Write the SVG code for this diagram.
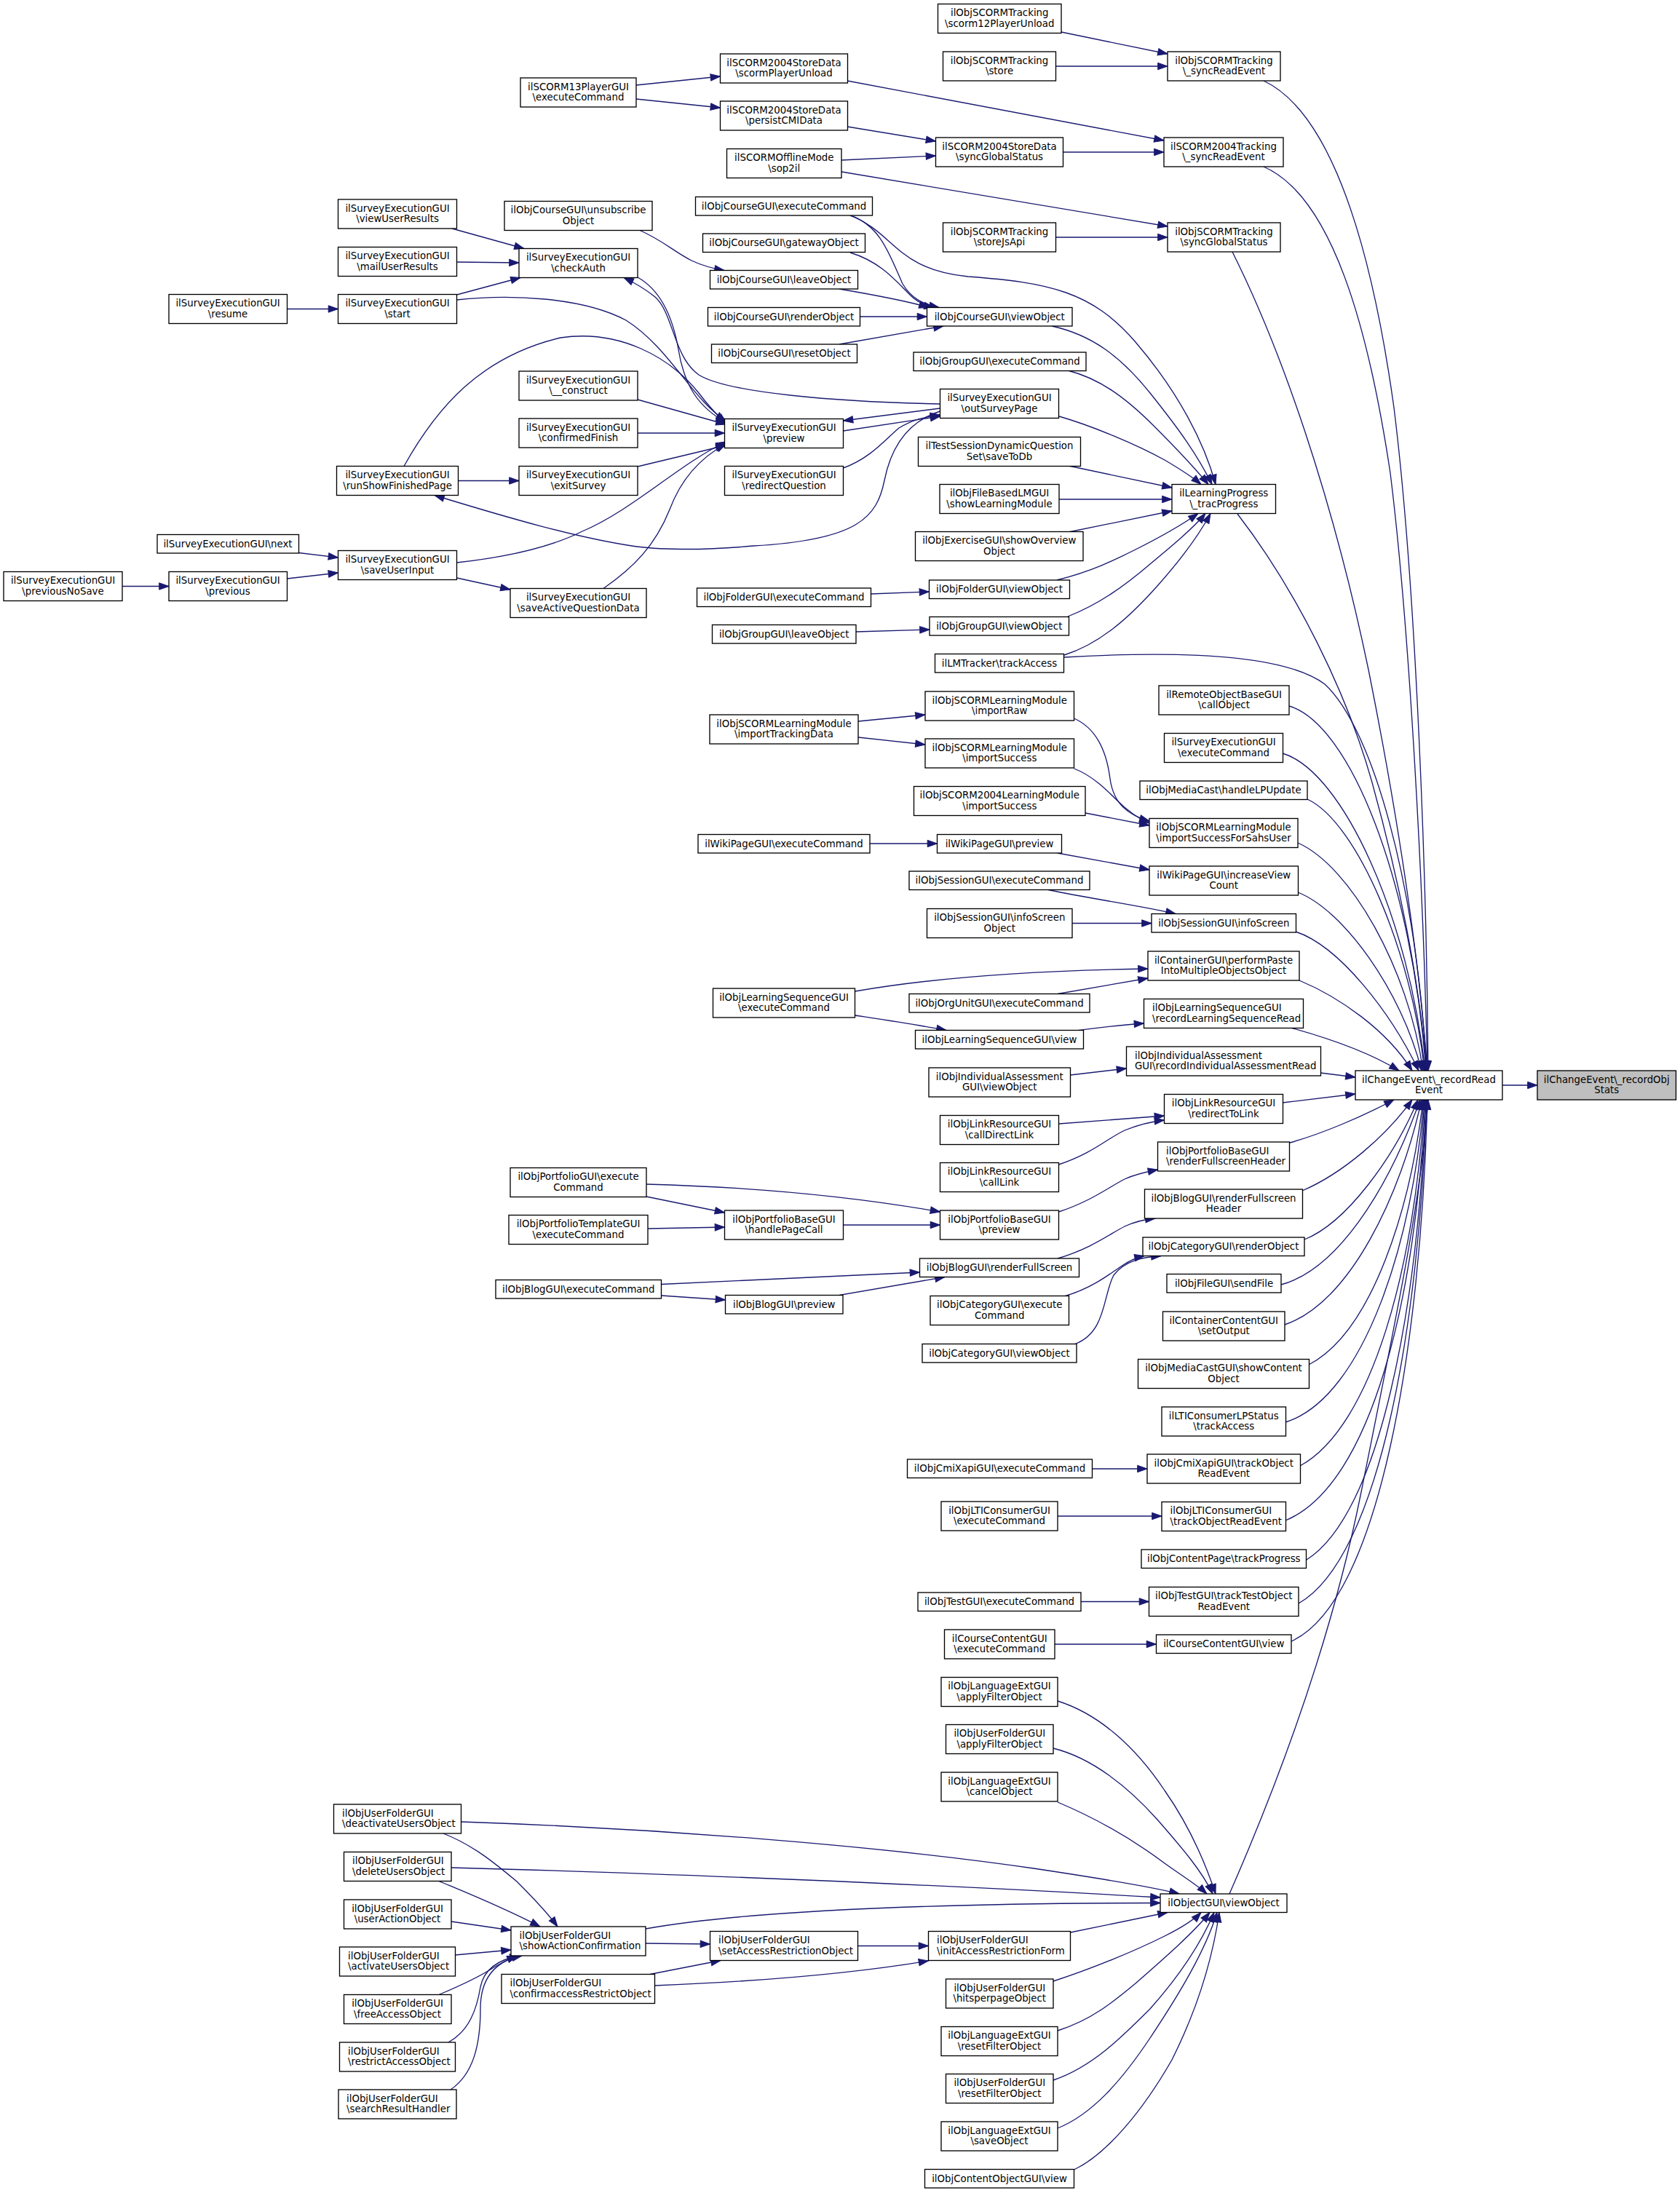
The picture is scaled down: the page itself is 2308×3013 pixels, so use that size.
<svg xmlns="http://www.w3.org/2000/svg" width="2308" height="3013" viewBox="0 0 2308 3013">
<defs>
<marker id="arr" markerUnits="userSpaceOnUse" markerWidth="14" markerHeight="10" refX="13.3" refY="4.7" orient="auto" overflow="visible"><path d="M0,0 L13.3,4.7 L0,9.4 Z" fill="#191970" stroke="#191970" stroke-width="1"/></marker>
</defs>
<style>
.n rect{fill:#fff;stroke:#000;stroke-width:1.33}
.r rect{fill:#bfbfbf}
text{font-family:"DejaVu Sans","Liberation Sans",sans-serif;font-size:13.33px;fill:#000;text-anchor:middle}
.l text{text-anchor:start}
#edges path{fill:none;stroke:#191970;stroke-width:1.33;marker-end:url(#arr)}
</style>
<rect width="2308" height="3013" fill="#fff"/>
<g id="edges">
<path d="M2064,1491 L2112,1491"/>
<path d="M1775,1412.5 C1820,1425 1880,1445 1922,1471"/>
<path d="M1785,1347 C1840,1370 1905,1415 1940,1471"/>
<path d="M1780,1280 C1840,1300 1910,1390 1949,1471"/>
<path d="M1783,1226 C1845,1250 1925,1360 1953,1471"/>
<path d="M1783,1158 C1855,1190 1935,1330 1955,1471"/>
<path d="M1796,1098 C1865,1130 1940,1310 1957,1471"/>
<path d="M1762,1035 C1845,1060 1935,1260 1958,1471"/>
<path d="M1771,970 C1855,995 1940,1210 1959,1471"/>
<path d="M1462,903 C1600,895 1760,895 1820,940 C1885,1000 1945,1210 1960,1471"/>
<path d="M1700,706 C1780,810 1850,950 1885,1075 C1925,1220 1950,1350 1960,1471"/>
<path d="M1693,346 C1760,480 1830,680 1880,920 C1920,1120 1948,1300 1961,1471"/>
<path d="M1736,229 C1830,270 1880,450 1910,650 C1935,850 1955,1200 1961,1471"/>
<path d="M1736,111 C1840,160 1890,380 1915,560 C1945,800 1960,1200 1962,1471"/>
<path d="M1762,1515 L1862,1503"/>
<path d="M1814,1474 L1862,1480"/>
<path d="M1772,1570 C1815,1558 1870,1535 1915,1511"/>
<path d="M1789,1636 C1845,1612 1905,1560 1940,1511"/>
<path d="M1792,1703 C1850,1680 1915,1590 1948,1511"/>
<path d="M1760,1765 C1835,1745 1905,1640 1951,1511"/>
<path d="M1765,1820 C1855,1790 1925,1640 1953,1511"/>
<path d="M1798,1875 C1885,1830 1938,1660 1955,1511"/>
<path d="M1766,1954 C1875,1920 1942,1700 1956,1511"/>
<path d="M1786,2014 C1885,1960 1944,1740 1957,1511"/>
<path d="M1766,2089 C1885,2040 1946,1780 1958,1511"/>
<path d="M1795,2143 C1895,2080 1948,1800 1959,1511"/>
<path d="M1784,2203 C1895,2140 1950,1820 1960,1511"/>
<path d="M1774,2255 C1895,2200 1952,1850 1961,1511"/>
<path d="M1689,2602 C1760,2440 1830,2250 1870,2050 C1920,1800 1952,1650 1962,1511"/>
<path d="M1168,296 C1230,320 1230,370 1330,380 C1440,388 1500,400 1560,470 C1620,540 1655,610 1670,665.5"/>
<path d="M1445,448 C1500,460 1540,490 1580,540 C1620,590 1645,625 1665,665.5"/>
<path d="M1467,509 C1510,520 1545,545 1585,585 C1620,620 1643,645 1660,665.5"/>
<path d="M1455,572 C1500,585 1560,610 1600,632 C1622,645 1638,655 1650,665.5"/>
<path d="M1468,640 L1610,670"/>
<path d="M1455,686 L1610,686"/>
<path d="M1468,731 L1610,702"/>
<path d="M1452,797 C1500,785 1530,770 1560,755 C1600,735 1628,718 1646,705.5"/>
<path d="M1467,847 C1510,830 1545,805 1580,775 C1610,750 1640,725 1656,705.5"/>
<path d="M1462,900 C1510,885 1550,850 1590,805 C1630,760 1650,730 1663,705.5"/>
<path d="M1458,44 L1604,74"/>
<path d="M1451,91 L1604,91"/>
<path d="M1164,111 L1599,193"/>
<path d="M1460.5,209 L1599,209"/>
<path d="M1156,236 L1604,311"/>
<path d="M1451,326 L1604,326"/>
<path d="M1164,174 L1285.5,194"/>
<path d="M1156,220 L1285.5,214"/>
<path d="M874,117 L989.5,105"/>
<path d="M874,136 L989.5,148"/>
<path d="M1168,296 C1210,310 1222,350 1240,390 C1252,410 1268,418 1290,422.5"/>
<path d="M1168,347 C1210,360 1230,385 1250,405 C1260,415 1270,420 1283,422.5"/>
<path d="M1153,397 C1200,405 1245,413 1276,422.5"/>
<path d="M1182,435 L1273.5,435"/>
<path d="M1153,473 L1296,448"/>
<path d="M878,316 C910,330 925,345 950,358 C965,365 980,369 995,371.5"/>
<path d="M621,314 L720,341.5"/>
<path d="M627.5,360 L713,361"/>
<path d="M627.5,405 L715,381.5"/>
<path d="M394.5,424.5 L464.5,424.5"/>
<path d="M627.5,412 C700,404 800,408 860,440 C920,478 950,548 997,578"/>
<path d="M876,381 C910,400 925,440 932,480 C940,530 960,560 997,580"/>
<path d="M1291.5,555 C1150,552 1000,540 960,515 C925,490 925,430 900,408 C885,396 875,390 857,381.5"/>
<path d="M1291.5,561 L1158.5,578"/>
<path d="M1158.5,592 L1291.5,572"/>
<path d="M1158.5,643 C1195,630 1215,605 1235,588 C1255,576 1270,573 1291.5,570"/>
<path d="M1291.5,565 C1250,578 1225,610 1215,660 C1205,710 1180,742 1035,750 C960,757 900,755 868,750 C790,738 700,712 597,680.5"/>
<path d="M629.5,660.5 L713,660.5"/>
<path d="M555,640.5 C600,560 660,490 770,464 C850,452 920,490 960,540 C975,560 985,570 997,582"/>
<path d="M876,549 L997,583"/>
<path d="M876,595 L995.5,595"/>
<path d="M876,641 L997,612"/>
<path d="M627.5,773 C700,765 760,750 800,730 C870,700 930,640 997,607"/>
<path d="M829,808.5 C870,780 900,750 920,700 C935,660 960,630 997,610"/>
<path d="M627.5,794 L701,810"/>
<path d="M410.5,759.5 L464.5,766"/>
<path d="M394.5,795 L464.5,787"/>
<path d="M168,805.5 L232,805.5"/>
<path d="M1196.5,816 L1276.5,813"/>
<path d="M1176,868 L1277,865"/>
<path d="M1179,991 L1271,982"/>
<path d="M1179,1013 L1271,1023"/>
<path d="M1475.5,987 C1505,1000 1520,1030 1525,1070 C1530,1105 1550,1120 1579,1128"/>
<path d="M1475.5,1056 C1500,1065 1520,1085 1535,1100 C1550,1115 1565,1125 1579,1131"/>
<path d="M1491,1117 L1579,1134"/>
<path d="M1195,1159 L1287.5,1159"/>
<path d="M1452.5,1172 L1579,1195"/>
<path d="M1440,1222.5 C1500,1235 1570,1245 1615,1255.5"/>
<path d="M1473,1268.5 L1582,1268.5"/>
<path d="M1174.5,1362 C1300,1340 1450,1333 1577,1331"/>
<path d="M1453,1365.5 L1577,1344"/>
<path d="M1174.5,1395 C1220,1402 1260,1408 1300,1415.5"/>
<path d="M1482,1415.5 C1510,1412 1540,1408 1571.5,1406"/>
<path d="M1470.5,1477 L1547.5,1468"/>
<path d="M1454.5,1544 L1599.5,1533"/>
<path d="M1454.5,1600 C1500,1585 1520,1565 1545,1553 C1565,1545 1580,1541 1599.5,1539"/>
<path d="M1454.5,1665 C1500,1650 1525,1630 1545,1620 C1560,1613 1575,1610 1590.5,1607"/>
<path d="M888,1627 C1000,1630 1150,1640 1291.5,1665"/>
<path d="M888,1644 L995.5,1666"/>
<path d="M890,1688 L995.5,1686"/>
<path d="M1158.5,1683 L1291.5,1683"/>
<path d="M908.5,1764.5 L1263.5,1748"/>
<path d="M908.5,1780 L996.5,1786"/>
<path d="M1153,1779.5 L1298,1754.5"/>
<path d="M1453,1729 C1500,1715 1525,1695 1545,1685 C1560,1678 1575,1675 1587,1674"/>
<path d="M1463.5,1780.5 C1500,1770 1525,1750 1540,1740 C1550,1733 1560,1728 1572,1725.5"/>
<path d="M1477,1846.5 C1520,1830 1515,1780 1530,1752 C1545,1732 1570,1727 1595,1725.5"/>
<path d="M1500.5,2018 L1576,2018"/>
<path d="M1453,2083 L1596,2083"/>
<path d="M1485,2200.5 L1578.5,2200.5"/>
<path d="M1449,2259 L1588.5,2259"/>
<path d="M1453,2337 C1510,2355 1560,2400 1600,2460 C1635,2510 1656,2560 1670,2602"/>
<path d="M1447,2402 C1500,2415 1550,2455 1590,2500 C1625,2540 1652,2572 1666,2602"/>
<path d="M1453,2476 C1510,2500 1560,2530 1600,2560 C1625,2578 1645,2590 1658,2602"/>
<path d="M633.5,2503 C900,2512 1200,2535 1420,2567 C1520,2582 1585,2593 1620,2602"/>
<path d="M620,2566 C900,2573 1300,2590 1594,2607"/>
<path d="M887,2650 C1000,2630 1200,2615 1594,2614.5"/>
<path d="M1470.5,2655 L1604,2627.5"/>
<path d="M1447,2722 C1500,2705 1560,2680 1600,2660 C1620,2650 1638,2640 1650,2627.5"/>
<path d="M1453,2790 C1500,2775 1530,2750 1560,2725 C1600,2690 1640,2655 1662,2627.5"/>
<path d="M1447,2858 C1500,2840 1540,2800 1580,2760 C1620,2715 1650,2670 1668,2627.5"/>
<path d="M1453,2924 C1500,2905 1540,2860 1580,2800 C1620,2740 1656,2680 1672,2627.5"/>
<path d="M1475.5,2981 C1520,2960 1570,2900 1610,2830 C1645,2760 1666,2690 1675,2627.5"/>
<path d="M609,2519 C650,2535 680,2560 710,2585 C735,2610 752,2628 766,2647"/>
<path d="M603,2584.5 C640,2600 690,2620 742,2647"/>
<path d="M620,2640 L702,2652"/>
<path d="M625.5,2686 L702,2679"/>
<path d="M603,2740.5 C640,2725 665,2712 680,2702 C690,2696 700,2691 710,2687"/>
<path d="M616,2806 C645,2790 655,2760 660,2730 C665,2705 685,2692 714,2687"/>
<path d="M619,2871 C650,2850 660,2810 660,2760 C660,2715 682,2694 717,2687"/>
<path d="M887,2670 L975.5,2671"/>
<path d="M893,2712.5 L990,2693.5"/>
<path d="M899.5,2728 C1050,2722 1180,2710 1275.5,2694"/>
<path d="M1178.5,2673.5 L1275.5,2673.5"/>
</g>
<g id="n_previousNoSave" class="n"><rect x="5" y="785.5" width="163" height="40"/><text x="86.5" y="802">ilSurveyExecutionGUI</text><text x="86.5" y="816.5">\previousNoSave</text></g>
<g id="n_resume" class="n"><rect x="232" y="404.5" width="162.5" height="40"/><text x="313" y="421">ilSurveyExecutionGUI</text><text x="313" y="435.5">\resume</text></g>
<g id="n_next" class="n"><rect x="216" y="734.5" width="194.5" height="25.5"/><text x="313" y="751.5">ilSurveyExecutionGUI\next</text></g>
<g id="n_previous" class="n"><rect x="232" y="785.5" width="162.5" height="40"/><text x="313" y="802">ilSurveyExecutionGUI</text><text x="313" y="816.5">\previous</text></g>
<g id="n_viewUserResults" class="n"><rect x="464.5" y="274" width="163" height="40"/><text x="546" y="290.5">ilSurveyExecutionGUI</text><text x="546" y="305">\viewUserResults</text></g>
<g id="n_mailUserResults" class="n"><rect x="464.5" y="339.5" width="163" height="40"/><text x="546" y="356">ilSurveyExecutionGUI</text><text x="546" y="370.5">\mailUserResults</text></g>
<g id="n_start" class="n"><rect x="464.5" y="404.5" width="163" height="40"/><text x="546" y="421">ilSurveyExecutionGUI</text><text x="546" y="435.5">\start</text></g>
<g id="n_runShowFinishedPage" class="n"><rect x="462.5" y="640.5" width="167" height="40"/><text x="546" y="657">ilSurveyExecutionGUI</text><text x="546" y="671.5">\runShowFinishedPage</text></g>
<g id="n_saveUserInput" class="n"><rect x="464.5" y="756.5" width="163" height="40"/><text x="546" y="773">ilSurveyExecutionGUI</text><text x="546" y="787.5">\saveUserInput</text></g>
<g id="n_deactivateUsersObject" class="n l"><rect x="458.5" y="2479" width="175" height="40"/><text x="470" y="2495.5">ilObjUserFolderGUI</text><text x="470" y="2510">\deactivateUsersObject</text></g>
<g id="n_deleteUsersObject" class="n l"><rect x="472.5" y="2544.5" width="147.5" height="40"/><text x="484" y="2561">ilObjUserFolderGUI</text><text x="484" y="2575.5">\deleteUsersObject</text></g>
<g id="n_userActionObject" class="n"><rect x="472.5" y="2610" width="147.5" height="40"/><text x="546" y="2626.5">ilObjUserFolderGUI</text><text x="546" y="2641">\userActionObject</text></g>
<g id="n_activateUsersObject" class="n l"><rect x="466.5" y="2675" width="159" height="40"/><text x="478" y="2691.5">ilObjUserFolderGUI</text><text x="478" y="2706">\activateUsersObject</text></g>
<g id="n_freeAccessObject" class="n"><rect x="472.5" y="2740.5" width="147.5" height="40"/><text x="546" y="2757">ilObjUserFolderGUI</text><text x="546" y="2771.5">\freeAccessObject</text></g>
<g id="n_restrictAccessObject" class="n l"><rect x="466.5" y="2806" width="159" height="40"/><text x="478" y="2822.5">ilObjUserFolderGUI</text><text x="478" y="2837">\restrictAccessObject</text></g>
<g id="n_searchResultHandler" class="n l"><rect x="465" y="2871" width="162" height="40"/><text x="476" y="2887.5">ilObjUserFolderGUI</text><text x="476" y="2902">\searchResultHandler</text></g>
<g id="n_scorm13_executeCommand" class="n"><rect x="715" y="107" width="159" height="40"/><text x="794.5" y="123.5">ilSCORM13PlayerGUI</text><text x="794.5" y="138">\executeCommand</text></g>
<g id="n_unsubscribeObject" class="n"><rect x="693" y="276.5" width="203" height="40"/><text x="794.5" y="293">ilObjCourseGUI\unsubscribe</text><text x="794.5" y="307.5">Object</text></g>
<g id="n_checkAuth" class="n"><rect x="713" y="341.5" width="163" height="40"/><text x="794.5" y="358">ilSurveyExecutionGUI</text><text x="794.5" y="372.5">\checkAuth</text></g>
<g id="n_construct" class="n"><rect x="713" y="510" width="163" height="40"/><text x="794.5" y="526.5">ilSurveyExecutionGUI</text><text x="794.5" y="541">\__construct</text></g>
<g id="n_confirmedFinish" class="n"><rect x="713" y="575" width="163" height="40"/><text x="794.5" y="591.5">ilSurveyExecutionGUI</text><text x="794.5" y="606">\confirmedFinish</text></g>
<g id="n_exitSurvey" class="n"><rect x="713" y="640.5" width="163" height="40"/><text x="794.5" y="657">ilSurveyExecutionGUI</text><text x="794.5" y="671.5">\exitSurvey</text></g>
<g id="n_saveActiveQuestionData" class="n"><rect x="701" y="808.5" width="187" height="40"/><text x="794.5" y="825">ilSurveyExecutionGUI</text><text x="794.5" y="839.5">\saveActiveQuestionData</text></g>
<g id="n_portfolio_executeCommand" class="n"><rect x="701" y="1604.5" width="187" height="40"/><text x="794.5" y="1621">ilObjPortfolioGUI\execute</text><text x="794.5" y="1635.5">Command</text></g>
<g id="n_portfoliotemplate_executeCommand" class="n"><rect x="699" y="1669.5" width="191" height="40"/><text x="794.5" y="1686">ilObjPortfolioTemplateGUI</text><text x="794.5" y="1700.5">\executeCommand</text></g>
<g id="n_blog_executeCommand" class="n"><rect x="681" y="1758.5" width="227.5" height="25.5"/><text x="794.75" y="1775.5">ilObjBlogGUI\executeCommand</text></g>
<g id="n_showActionConfirmation" class="n l"><rect x="702" y="2647" width="185" height="40"/><text x="713.5" y="2663.5">ilObjUserFolderGUI</text><text x="713.5" y="2678">\showActionConfirmation</text></g>
<g id="n_confirmaccessRestrictObject" class="n l"><rect x="689" y="2712.5" width="210.5" height="40"/><text x="700.5" y="2729">ilObjUserFolderGUI</text><text x="700.5" y="2743.5">\confirmaccessRestrictObject</text></g>
<g id="n_scormPlayerUnload" class="n"><rect x="989.5" y="74" width="175" height="40"/><text x="1077" y="90.5">ilSCORM2004StoreData</text><text x="1077" y="105">\scormPlayerUnload</text></g>
<g id="n_persistCMIData" class="n"><rect x="989.5" y="139" width="175" height="40"/><text x="1077" y="155.5">ilSCORM2004StoreData</text><text x="1077" y="170">\persistCMIData</text></g>
<g id="n_sop2il" class="n"><rect x="998.5" y="204.5" width="157.5" height="40"/><text x="1077.25" y="221">ilSCORMOfflineMode</text><text x="1077.25" y="235.5">\sop2il</text></g>
<g id="n_course_executeCommand" class="n"><rect x="955.5" y="270.5" width="243" height="25.5"/><text x="1077" y="287.5">ilObjCourseGUI\executeCommand</text></g>
<g id="n_course_gatewayObject" class="n"><rect x="965.5" y="321" width="223" height="25.5"/><text x="1077" y="338">ilObjCourseGUI\gatewayObject</text></g>
<g id="n_course_leaveObject" class="n"><rect x="975.5" y="371.5" width="203" height="25.5"/><text x="1077" y="388.5">ilObjCourseGUI\leaveObject</text></g>
<g id="n_course_renderObject" class="n"><rect x="972.5" y="422.5" width="209" height="25.5"/><text x="1077" y="439.5">ilObjCourseGUI\renderObject</text></g>
<g id="n_course_resetObject" class="n"><rect x="977.5" y="473" width="200" height="25.5"/><text x="1077.5" y="490">ilObjCourseGUI\resetObject</text></g>
<g id="n_survey_preview" class="n"><rect x="995.5" y="575.5" width="163" height="40"/><text x="1077" y="592">ilSurveyExecutionGUI</text><text x="1077" y="606.5">\preview</text></g>
<g id="n_redirectQuestion" class="n"><rect x="995.5" y="640.5" width="163" height="40"/><text x="1077" y="657">ilSurveyExecutionGUI</text><text x="1077" y="671.5">\redirectQuestion</text></g>
<g id="n_folder_executeCommand" class="n"><rect x="957.5" y="808" width="239" height="25.5"/><text x="1077" y="825">ilObjFolderGUI\executeCommand</text></g>
<g id="n_group_leaveObject" class="n"><rect x="978.5" y="858.5" width="197.5" height="25.5"/><text x="1077.25" y="875.5">ilObjGroupGUI\leaveObject</text></g>
<g id="n_importTrackingData" class="n"><rect x="975" y="982" width="204" height="40"/><text x="1077" y="998.5">ilObjSCORMLearningModule</text><text x="1077" y="1013">\importTrackingData</text></g>
<g id="n_wiki_executeCommand" class="n"><rect x="959" y="1146.5" width="236" height="25.5"/><text x="1077" y="1163.5">ilWikiPageGUI\executeCommand</text></g>
<g id="n_lso_executeCommand" class="n"><rect x="979.5" y="1358" width="195" height="40"/><text x="1077" y="1374.5">ilObjLearningSequenceGUI</text><text x="1077" y="1389">\executeCommand</text></g>
<g id="n_handlePageCall" class="n"><rect x="995.5" y="1663" width="163" height="40"/><text x="1077" y="1679.5">ilObjPortfolioBaseGUI</text><text x="1077" y="1694">\handlePageCall</text></g>
<g id="n_blog_preview" class="n"><rect x="996.5" y="1779.5" width="161.5" height="25.5"/><text x="1077.25" y="1796.5">ilObjBlogGUI\preview</text></g>
<g id="n_setAccessRestrictionObject" class="n l"><rect x="975.5" y="2653.5" width="203" height="40"/><text x="987" y="2670">ilObjUserFolderGUI</text><text x="987" y="2684.5">\setAccessRestrictionObject</text></g>
<g id="n_scorm12PlayerUnload" class="n"><rect x="1288.5" y="5.5" width="169.5" height="40"/><text x="1373.25" y="22">ilObjSCORMTracking</text><text x="1373.25" y="36.5">\scorm12PlayerUnload</text></g>
<g id="n_tracking_store" class="n"><rect x="1295.5" y="71" width="155" height="40"/><text x="1373" y="87.5">ilObjSCORMTracking</text><text x="1373" y="102">\store</text></g>
<g id="n_storedata_syncGlobalStatus" class="n"><rect x="1285.5" y="189" width="175" height="40"/><text x="1373" y="205.5">ilSCORM2004StoreData</text><text x="1373" y="220">\syncGlobalStatus</text></g>
<g id="n_storeJsApi" class="n"><rect x="1295.5" y="306" width="155" height="40"/><text x="1373" y="322.5">ilObjSCORMTracking</text><text x="1373" y="337">\storeJsApi</text></g>
<g id="n_course_viewObject" class="n"><rect x="1273.5" y="422.5" width="199.5" height="25.5"/><text x="1373.25" y="439.5">ilObjCourseGUI\viewObject</text></g>
<g id="n_group_executeCommand" class="n"><rect x="1255" y="484" width="237" height="25.5"/><text x="1373.5" y="501">ilObjGroupGUI\executeCommand</text></g>
<g id="n_outSurveyPage" class="n"><rect x="1291.5" y="534.5" width="163" height="40"/><text x="1373" y="551">ilSurveyExecutionGUI</text><text x="1373" y="565.5">\outSurveyPage</text></g>
<g id="n_saveToDb" class="n"><rect x="1261.5" y="600.5" width="223" height="40"/><text x="1373" y="617">ilTestSessionDynamicQuestion</text><text x="1373" y="631.5">Set\saveToDb</text></g>
<g id="n_showLearningModule" class="n"><rect x="1291" y="665.5" width="164" height="40"/><text x="1373" y="682">ilObjFileBasedLMGUI</text><text x="1373" y="696.5">\showLearningModule</text></g>
<g id="n_showOverviewObject" class="n"><rect x="1257.5" y="730.5" width="230.5" height="40"/><text x="1372.75" y="747">ilObjExerciseGUI\showOverview</text><text x="1372.75" y="761.5">Object</text></g>
<g id="n_folder_viewObject" class="n"><rect x="1276.5" y="797" width="193" height="25.5"/><text x="1373" y="814">ilObjFolderGUI\viewObject</text></g>
<g id="n_group_viewObject" class="n"><rect x="1277" y="847.5" width="191.5" height="25.5"/><text x="1372.75" y="864.5">ilObjGroupGUI\viewObject</text></g>
<g id="n_lmtracker_trackAccess" class="n"><rect x="1284.5" y="898.5" width="177" height="25.5"/><text x="1373" y="915.5">ilLMTracker\trackAccess</text></g>
<g id="n_importRaw" class="n"><rect x="1271" y="950" width="204.5" height="40"/><text x="1373.25" y="966.5">ilObjSCORMLearningModule</text><text x="1373.25" y="981">\importRaw</text></g>
<g id="n_importSuccess" class="n"><rect x="1271" y="1015" width="204.5" height="40"/><text x="1373.25" y="1031.5">ilObjSCORMLearningModule</text><text x="1373.25" y="1046">\importSuccess</text></g>
<g id="n_scorm2004_importSuccess" class="n"><rect x="1255.5" y="1080.5" width="235.5" height="40"/><text x="1373.25" y="1097">ilObjSCORM2004LearningModule</text><text x="1373.25" y="1111.5">\importSuccess</text></g>
<g id="n_wiki_preview" class="n"><rect x="1287.5" y="1146.5" width="171" height="25.5"/><text x="1373" y="1163.5">ilWikiPageGUI\preview</text></g>
<g id="n_session_executeCommand" class="n"><rect x="1249" y="1197" width="248" height="25.5"/><text x="1373" y="1214">ilObjSessionGUI\executeCommand</text></g>
<g id="n_infoScreenObject" class="n"><rect x="1273.5" y="1248.5" width="199.5" height="40"/><text x="1373.25" y="1265">ilObjSessionGUI\infoScreen</text><text x="1373.25" y="1279.5">Object</text></g>
<g id="n_orgunit_executeCommand" class="n"><rect x="1249" y="1365.5" width="248" height="25.5"/><text x="1373" y="1382.5">ilObjOrgUnitGUI\executeCommand</text></g>
<g id="n_lso_view" class="n"><rect x="1257.5" y="1415.5" width="231" height="25.5"/><text x="1373" y="1432.5">ilObjLearningSequenceGUI\view</text></g>
<g id="n_iass_viewObject" class="n"><rect x="1276" y="1467" width="194.5" height="40"/><text x="1373.25" y="1483.5">ilObjIndividualAssessment</text><text x="1373.25" y="1498">GUI\viewObject</text></g>
<g id="n_callDirectLink" class="n"><rect x="1291.5" y="1532.5" width="163" height="40"/><text x="1373" y="1549">ilObjLinkResourceGUI</text><text x="1373" y="1563.5">\callDirectLink</text></g>
<g id="n_callLink" class="n"><rect x="1291.5" y="1597.5" width="163" height="40"/><text x="1373" y="1614">ilObjLinkResourceGUI</text><text x="1373" y="1628.5">\callLink</text></g>
<g id="n_portfoliobase_preview" class="n"><rect x="1291.5" y="1663" width="163" height="40"/><text x="1373" y="1679.5">ilObjPortfolioBaseGUI</text><text x="1373" y="1694">\preview</text></g>
<g id="n_blog_renderFullScreen" class="n"><rect x="1263.5" y="1729" width="219" height="25.5"/><text x="1373" y="1746">ilObjBlogGUI\renderFullScreen</text></g>
<g id="n_category_executeCommand" class="n"><rect x="1278" y="1780.5" width="190.5" height="40"/><text x="1373.25" y="1797">ilObjCategoryGUI\execute</text><text x="1373.25" y="1811.5">Command</text></g>
<g id="n_category_viewObject" class="n"><rect x="1267" y="1846.5" width="212" height="25.5"/><text x="1373" y="1863.5">ilObjCategoryGUI\viewObject</text></g>
<g id="n_cmix_executeCommand" class="n"><rect x="1246.5" y="2005" width="254" height="25.5"/><text x="1373.5" y="2022">ilObjCmiXapiGUI\executeCommand</text></g>
<g id="n_lti_executeCommand" class="n"><rect x="1293" y="2063" width="160" height="40"/><text x="1373" y="2079.5">ilObjLTIConsumerGUI</text><text x="1373" y="2094">\executeCommand</text></g>
<g id="n_test_executeCommand" class="n"><rect x="1261" y="2188" width="224" height="25.5"/><text x="1373" y="2205">ilObjTestGUI\executeCommand</text></g>
<g id="n_coursecontent_executeCommand" class="n"><rect x="1297.5" y="2239" width="151.5" height="40"/><text x="1373.25" y="2255.5">ilCourseContentGUI</text><text x="1373.25" y="2270">\executeCommand</text></g>
<g id="n_langext_applyFilterObject" class="n"><rect x="1293" y="2304.5" width="160" height="40"/><text x="1373" y="2321">ilObjLanguageExtGUI</text><text x="1373" y="2335.5">\applyFilterObject</text></g>
<g id="n_userfolder_applyFilterObject" class="n"><rect x="1299.5" y="2369.5" width="147.5" height="40"/><text x="1373.25" y="2386">ilObjUserFolderGUI</text><text x="1373.25" y="2400.5">\applyFilterObject</text></g>
<g id="n_langext_cancelObject" class="n"><rect x="1293" y="2435" width="160" height="40"/><text x="1373" y="2451.5">ilObjLanguageExtGUI</text><text x="1373" y="2466">\cancelObject</text></g>
<g id="n_initAccessRestrictionForm" class="n l"><rect x="1275.5" y="2653.5" width="195" height="40"/><text x="1287" y="2670">ilObjUserFolderGUI</text><text x="1287" y="2684.5">\initAccessRestrictionForm</text></g>
<g id="n_hitsperpageObject" class="n"><rect x="1299.5" y="2719" width="147.5" height="40"/><text x="1373.25" y="2735.5">ilObjUserFolderGUI</text><text x="1373.25" y="2750">\hitsperpageObject</text></g>
<g id="n_langext_resetFilterObject" class="n"><rect x="1293" y="2784.5" width="160" height="40"/><text x="1373" y="2801">ilObjLanguageExtGUI</text><text x="1373" y="2815.5">\resetFilterObject</text></g>
<g id="n_userfolder_resetFilterObject" class="n"><rect x="1299.5" y="2849.5" width="147.5" height="40"/><text x="1373.25" y="2866">ilObjUserFolderGUI</text><text x="1373.25" y="2880.5">\resetFilterObject</text></g>
<g id="n_langext_saveObject" class="n"><rect x="1293" y="2915" width="160" height="40"/><text x="1373" y="2931.5">ilObjLanguageExtGUI</text><text x="1373" y="2946">\saveObject</text></g>
<g id="n_contentobject_view" class="n"><rect x="1270.5" y="2980.5" width="205" height="25.5"/><text x="1373" y="2997.5">ilObjContentObjectGUI\view</text></g>
<g id="n_tracking_syncReadEvent" class="n"><rect x="1604" y="71" width="155" height="40"/><text x="1681.5" y="87.5">ilObjSCORMTracking</text><text x="1681.5" y="102">\_syncReadEvent</text></g>
<g id="n_scorm2004tracking_syncReadEvent" class="n"><rect x="1599" y="189" width="164" height="40"/><text x="1681" y="205.5">ilSCORM2004Tracking</text><text x="1681" y="220">\_syncReadEvent</text></g>
<g id="n_tracking_syncGlobalStatus" class="n"><rect x="1604" y="306" width="155" height="40"/><text x="1681.5" y="322.5">ilObjSCORMTracking</text><text x="1681.5" y="337">\syncGlobalStatus</text></g>
<g id="n_tracProgress" class="n"><rect x="1610" y="665.5" width="142.5" height="40"/><text x="1681.25" y="682">ilLearningProgress</text><text x="1681.25" y="696.5">\_tracProgress</text></g>
<g id="n_remote_callObject" class="n"><rect x="1592" y="942" width="179" height="40"/><text x="1681.5" y="958.5">ilRemoteObjectBaseGUI</text><text x="1681.5" y="973">\callObject</text></g>
<g id="n_survey_executeCommand" class="n"><rect x="1599.5" y="1007.5" width="163" height="40"/><text x="1681" y="1024">ilSurveyExecutionGUI</text><text x="1681" y="1038.5">\executeCommand</text></g>
<g id="n_mediacast_handleLPUpdate" class="n"><rect x="1566" y="1073" width="230" height="25.5"/><text x="1681" y="1090">ilObjMediaCast\handleLPUpdate</text></g>
<g id="n_importSuccessForSahsUser" class="n"><rect x="1579" y="1124.5" width="204" height="40"/><text x="1681" y="1141">ilObjSCORMLearningModule</text><text x="1681" y="1155.5">\importSuccessForSahsUser</text></g>
<g id="n_increaseViewCount" class="n"><rect x="1579" y="1190" width="204.5" height="40"/><text x="1681.25" y="1206.5">ilWikiPageGUI\increaseView</text><text x="1681.25" y="1221">Count</text></g>
<g id="n_session_infoScreen" class="n"><rect x="1582" y="1255.5" width="198.5" height="25.5"/><text x="1681.25" y="1272.5">ilObjSessionGUI\infoScreen</text></g>
<g id="n_performPaste" class="n"><rect x="1577" y="1307" width="208" height="40"/><text x="1681" y="1323.5">ilContainerGUI\performPaste</text><text x="1681" y="1338">IntoMultipleObjectsObject</text></g>
<g id="n_recordLearningSequenceRead" class="n l"><rect x="1571.5" y="1372.5" width="219" height="40"/><text x="1583" y="1389">ilObjLearningSequenceGUI</text><text x="1583" y="1403.5">\recordLearningSequenceRead</text></g>
<g id="n_recordIndividualAssessmentRead" class="n l"><rect x="1547.5" y="1438" width="267" height="40"/><text x="1559" y="1454.5">ilObjIndividualAssessment</text><text x="1559" y="1469">GUI\recordIndividualAssessmentRead</text></g>
<g id="n_redirectToLink" class="n"><rect x="1599.5" y="1503.5" width="163" height="40"/><text x="1681" y="1520">ilObjLinkResourceGUI</text><text x="1681" y="1534.5">\redirectToLink</text></g>
<g id="n_portfolio_renderFullscreenHeader" class="n l"><rect x="1590.5" y="1569" width="181" height="40"/><text x="1602" y="1585.5">ilObjPortfolioBaseGUI</text><text x="1602" y="1600">\renderFullscreenHeader</text></g>
<g id="n_blog_renderFullscreenHeader" class="n"><rect x="1572.5" y="1634" width="217" height="40"/><text x="1681" y="1650.5">ilObjBlogGUI\renderFullscreen</text><text x="1681" y="1665">Header</text></g>
<g id="n_category_renderObject" class="n"><rect x="1570" y="1700" width="222" height="25.5"/><text x="1681" y="1717">ilObjCategoryGUI\renderObject</text></g>
<g id="n_file_sendFile" class="n"><rect x="1603" y="1750.5" width="157" height="25.5"/><text x="1681.5" y="1767.5">ilObjFileGUI\sendFile</text></g>
<g id="n_setOutput" class="n"><rect x="1597.5" y="1802" width="167.5" height="40"/><text x="1681.25" y="1818.5">ilContainerContentGUI</text><text x="1681.25" y="1833">\setOutput</text></g>
<g id="n_showContentObject" class="n"><rect x="1563.5" y="1867.5" width="235" height="40"/><text x="1681" y="1884">ilObjMediaCastGUI\showContent</text><text x="1681" y="1898.5">Object</text></g>
<g id="n_ltilpstatus_trackAccess" class="n"><rect x="1596" y="1933" width="170.5" height="40"/><text x="1681.25" y="1949.5">ilLTIConsumerLPStatus</text><text x="1681.25" y="1964">\trackAccess</text></g>
<g id="n_cmix_trackObjectReadEvent" class="n"><rect x="1576" y="1998" width="210.5" height="40"/><text x="1681.25" y="2014.5">ilObjCmiXapiGUI\trackObject</text><text x="1681.25" y="2029">ReadEvent</text></g>
<g id="n_lti_trackObjectReadEvent" class="n l"><rect x="1596" y="2063.5" width="170.5" height="40"/><text x="1607.5" y="2080">ilObjLTIConsumerGUI</text><text x="1607.5" y="2094.5">\trackObjectReadEvent</text></g>
<g id="n_contentpage_trackProgress" class="n"><rect x="1568" y="2129" width="226.5" height="25.5"/><text x="1681.25" y="2146">ilObjContentPage\trackProgress</text></g>
<g id="n_trackTestObjectReadEvent" class="n"><rect x="1578.5" y="2180.5" width="205.5" height="40"/><text x="1681.25" y="2197">ilObjTestGUI\trackTestObject</text><text x="1681.25" y="2211.5">ReadEvent</text></g>
<g id="n_coursecontent_view" class="n"><rect x="1588.5" y="2246" width="185.5" height="25.5"/><text x="1681.25" y="2263">ilCourseContentGUI\view</text></g>
<g id="n_objectgui_viewObject" class="n"><rect x="1594" y="2602" width="174" height="25.5"/><text x="1681" y="2619">ilObjectGUI\viewObject</text></g>
<g id="n_recordReadEvent" class="n"><rect x="1862" y="1471" width="202" height="40"/><text x="1963" y="1487.5">ilChangeEvent\_recordRead</text><text x="1963" y="1502">Event</text></g>
<g id="n_recordObjStats" class="n r"><rect x="2112" y="1471" width="190.5" height="40"/><text x="2207.25" y="1487.5">ilChangeEvent\_recordObj</text><text x="2207.25" y="1502">Stats</text></g>
</svg>
